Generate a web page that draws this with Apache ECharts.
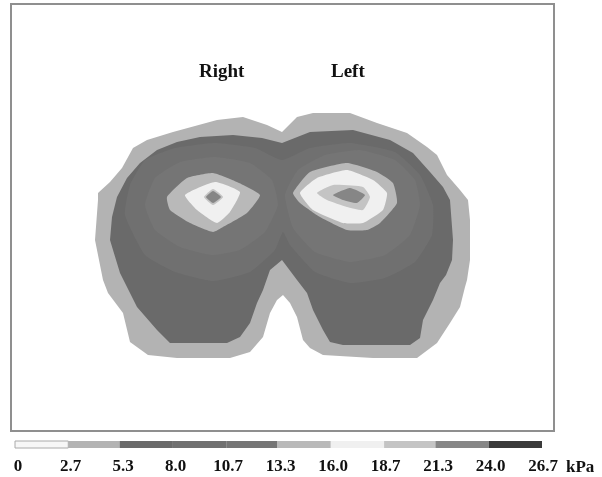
<!DOCTYPE html>
<html>
<head>
<meta charset="utf-8">
<script src="https://cdn.jsdelivr.net/npm/echarts@6/dist/echarts.min.js"></script>
<style>html,body{margin:0;padding:0;background:#fff}#c{width:602px;height:477px}</style>
</head>
<body>
<div id="c"></div>
<script>
// Pressure scale (kPa)
const bandEdges = [0, 2.7, 5.3, 8.0, 10.7, 13.3, 16.0, 18.7, 21.3, 24.0, 26.7];
const tickLabels = ['0', '2.7', '5.3', '8.0', '10.7', '13.3', '16.0', '18.7', '21.3', '24.0', '26.7'];
const bandColors = ['#f7f7f7', '#b3b3b3', '#6a6a6a', '#707070', '#757575', '#b9b9b9', '#f0f0f0', '#c4c4c4', '#868686', '#3a3a3a'];
const unitLabel = 'kPa';
const sideLabels = ['Right', 'Left'];

// Contour regions on the mat (mat units, y downward) and their pressure levels
const contourLevels = [4.0, 6.7, 9.3, 12.0, 12.0, 14.7, 17.3, 20.0, 22.7, 14.7, 17.3, 20.0, 22.7];
const outerContour = [[84,236],[87,196],[87,189],[99,178],[111,164],[122,144],[136,136],[162,128],[206,116],[232,113],[256,121],[271,128],[286,113],[302,109],[339,109],[366,119],[396,129],[416,143],[426,151],[436,171],[449,186],[457,196],[459,216],[459,256],[456,276],[454,283],[449,303],[439,319],[426,339],[406,354],[362,354],[312,351],[299,344],[292,336],[286,313],[279,299],[272,291],[266,296],[259,309],[252,333],[239,348],[219,354],[166,354],[137,351],[119,338],[112,309],[97,289],[92,276]];
const baseContour = [[99,236],[101,213],[106,193],[116,174],[129,159],[146,146],[166,138],[189,133],[222,131],[251,134],[271,139],[299,128],[342,126],[379,136],[402,149],[419,168],[432,183],[439,196],[442,236],[441,256],[435,271],[429,279],[422,296],[412,316],[409,334],[399,341],[332,341],[319,338],[312,326],[302,306],[296,289],[286,276],[271,256],[259,266],[252,286],[246,299],[239,319],[229,333],[216,339],[159,339],[146,326],[126,303],[109,269],[102,246]];
const midContour = [[114,211],[119,181],[134,156],[164,144],[204,139],[244,144],[271,156],[299,144],[339,139],[384,148],[409,171],[422,201],[421,231],[404,258],[374,274],[339,279],[304,268],[279,241],[272,228],[264,246],[239,268],[202,277],[164,268],[134,251]];
const rightSideInner = [[134,201],[144,174],[169,158],[204,153],[239,159],[261,176],[267,201],[254,228],[229,246],[201,251],[169,243],[144,226]];
const leftSideInner = [[274,191],[287,166],[314,151],[349,146],[384,156],[404,176],[409,201],[399,231],[374,251],[339,258],[304,248],[282,224]];
const rightSideRing = [[156,193],[176,174],[202,169],[226,178],[249,191],[236,209],[212,223],[202,228],[179,219],[159,206]];
const rightSidePeak = [[174,191],[204,178],[229,188],[219,208],[206,219],[186,206]];
const rightSideCore = [[193,193],[202,185],[212,193],[202,201]];
const rightSideMax = [[195,193],[202,187],[210,193],[202,199]];
const leftSideRing = [[282,189],[299,168],[336,159],[366,168],[382,179],[386,199],[369,219],[356,226],[336,226],[309,213],[289,199]];
const leftSidePeak = [[289,189],[306,174],[336,166],[362,176],[376,189],[372,206],[352,219],[332,219],[302,206]];
const leftSideCore = [[306,189],[322,181],[352,183],[359,193],[352,206],[336,203],[316,196]];
const leftSideMax = [[322,191],[339,184],[354,191],[346,199],[332,196]];

const contours = [outerContour, baseContour, midContour, rightSideInner, leftSideInner,
  rightSideRing, rightSidePeak, rightSideCore, rightSideMax,
  leftSideRing, leftSidePeak, leftSideCore, leftSideMax];

function colorFor(v) {
  for (let i = 0; i < bandColors.length; i++) {
    if (v >= bandEdges[i] && v < bandEdges[i + 1]) return bandColors[i];
  }
  return bandColors[bandColors.length - 1];
}

const contourSeries = contours.map((pts, k) => ({
  type: 'custom',
  xAxisIndex: 0, yAxisIndex: 0,
  silent: true,
  data: [[contourLevels[k]]],
  renderItem: function (params, api) {
    return {
      type: 'polygon',
      shape: { points: pts.map(p => api.coord(p)), smooth: k === 0 || k === 1 ? 0 : 0.15 },
      style: { fill: colorFor(contourLevels[k]), stroke: null }
    };
  }
}));

const barSeries = {
  type: 'custom',
  xAxisIndex: 1, yAxisIndex: 1,
  silent: true,
  data: bandColors.map((c, i) => [bandEdges[i], bandEdges[i + 1]]),
  renderItem: function (params, api) {
    const a = api.coord([api.value(0), 0]);
    const b = api.coord([api.value(1), 1]);
    const i = params.dataIndex;
    return {
      type: 'rect',
      shape: { x: a[0], y: b[1], width: b[0] - a[0], height: a[1] - b[1] },
      style: { fill: bandColors[i], stroke: i === 0 ? '#aaaaaa' : null, lineWidth: 1 }
    };
  }
};

const labelFont = { color: '#111', fontFamily: 'Liberation Serif', fontWeight: 'bold', fontSize: 17 };

const chart = echarts.init(document.getElementById('c'), null, { renderer: 'canvas' });
chart.setOption({
  animation: false,
  backgroundColor: '#ffffff',
  grid: [
    { left: 11, top: 4, width: 543, height: 427, show: true, borderColor: '#8f8f8f', borderWidth: 2, backgroundColor: '#ffffff' },
    { left: 15, top: 441, width: 527, height: 7 },
    { left: 18, top: 457, width: 525, height: 0 }
  ],
  xAxis: [
    { gridIndex: 0, type: 'value', min: 0, max: 543, show: false },
    { gridIndex: 1, type: 'value', min: 0, max: 26.7, show: false },
    { gridIndex: 2, type: 'category', data: tickLabels, boundaryGap: false,
      axisLine: { show: false }, axisTick: { show: false },
      axisLabel: Object.assign({ margin: 1, verticalAlign: 'top', interval: 0 }, labelFont),
      name: unitLabel, nameLocation: 'end', nameGap: 23,
      nameTextStyle: Object.assign({ verticalAlign: 'top', align: 'left', padding: [2, 0, 0, 0] }, labelFont) }
  ],
  yAxis: [
    { gridIndex: 0, type: 'value', min: 0, max: 427, inverse: true, show: false },
    { gridIndex: 1, type: 'value', min: 0, max: 1, show: false },
    { gridIndex: 2, type: 'value', show: false }
  ],
  graphic: [
    { type: 'text', left: 199, top: 63, style: { text: sideLabels[0], font: 'bold 19px "Liberation Serif"', fill: '#111' } },
    { type: 'text', left: 331, top: 63, style: { text: sideLabels[1], font: 'bold 19px "Liberation Serif"', fill: '#111' } }
  ],
  series: contourSeries.concat([barSeries])
});
</script>
</body>
</html>
